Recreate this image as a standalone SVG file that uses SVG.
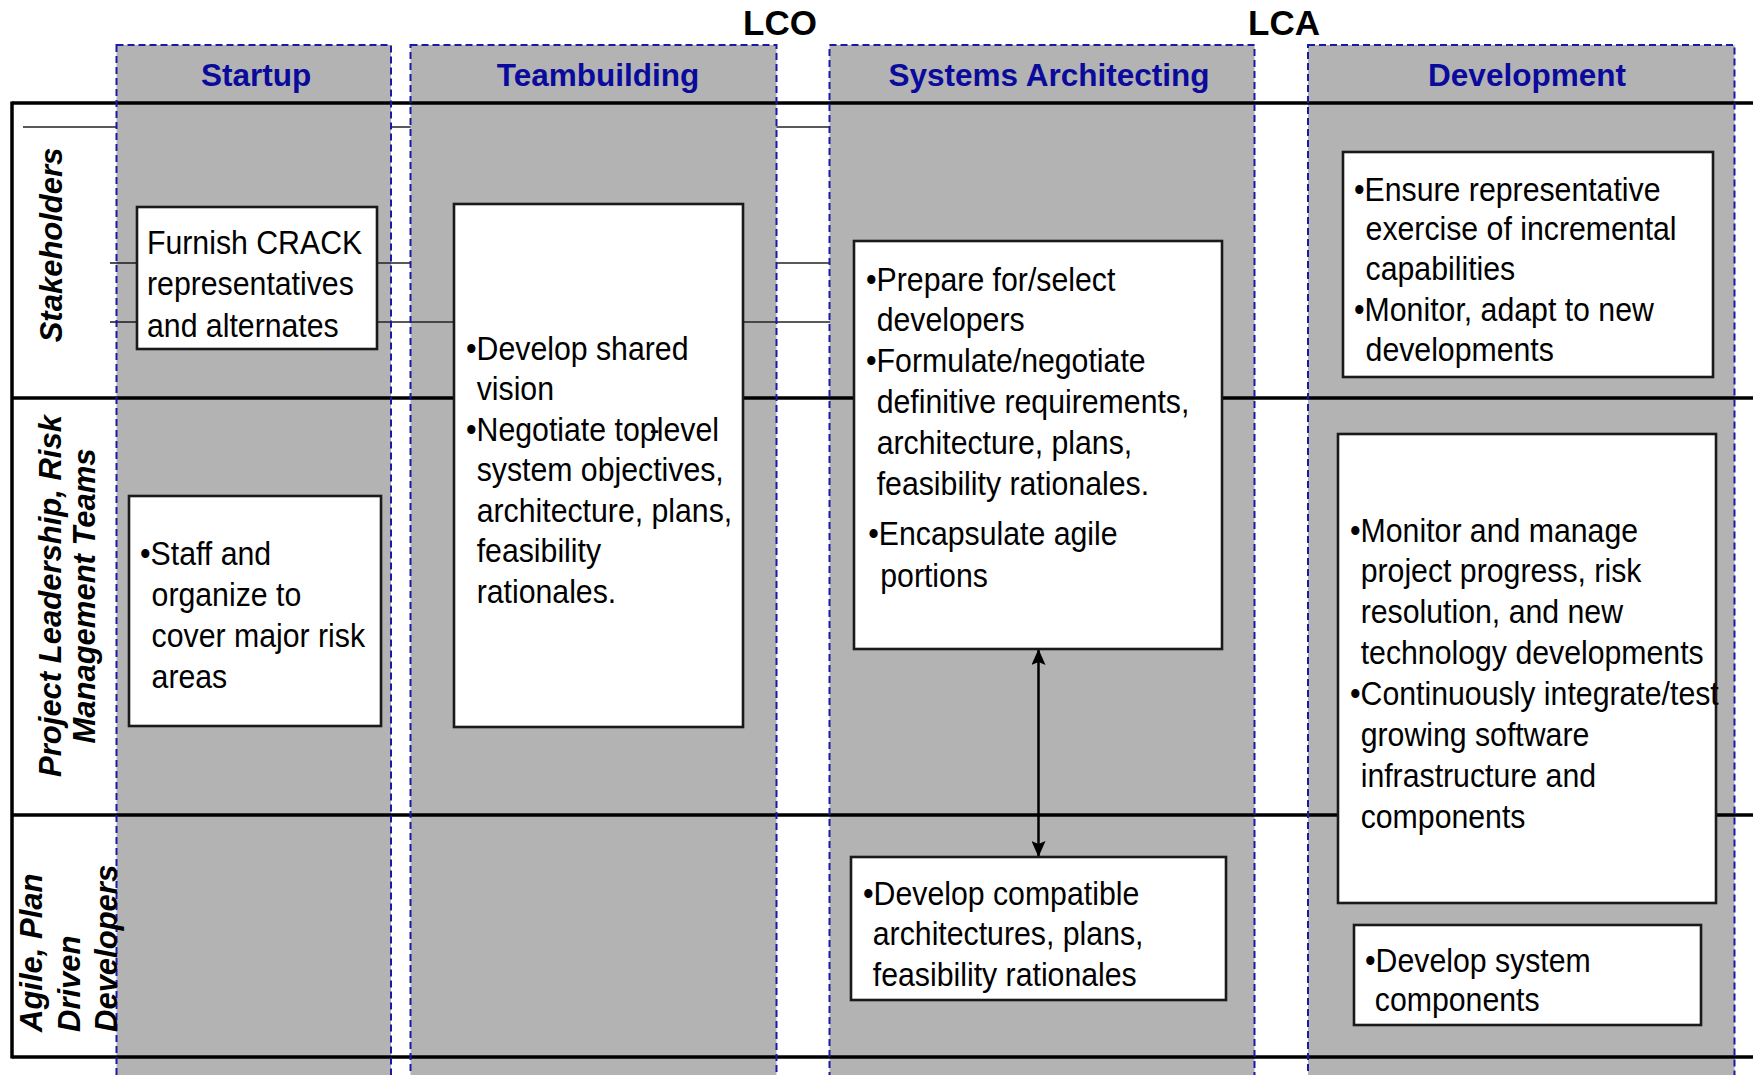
<svg xmlns="http://www.w3.org/2000/svg" width="1753" height="1075" viewBox="0 0 1753 1075">
  <style>
    .col { fill: #b3b3b3; }
    .colEdge { fill: none; stroke: #1a1aa6; stroke-width: 2; stroke-dasharray: 7 4; }
    .rule { stroke: #000; stroke-width: 3.5; fill: none; }
    .thin { stroke: #222; stroke-width: 1.6; fill: none; }
    .box { fill: #fff; stroke: #1a1a1a; stroke-width: 2.6; }
    .phase { font-family: "Liberation Sans", Arial, sans-serif; font-weight: bold; font-size: 31.5px; fill: #0a0a9c; text-anchor: middle; }
    .mile { font-family: "Liberation Sans", Arial, sans-serif; font-weight: bold; font-size: 35px; fill: #000; text-anchor: middle; }
    .lane { font-family: "Liberation Sans", Arial, sans-serif; font-weight: bold; font-style: italic; font-size: 31px; fill: #000; }
    .t { font-family: "Liberation Sans", Arial, sans-serif; font-size: 34px; fill: #000; }
    .arrow { stroke: #000; stroke-width: 2.5; fill: none; }
  </style>
  <defs>
    <marker id="head" viewBox="0 0 16 14" refX="15" refY="7" markerWidth="16" markerHeight="14" markerUnits="userSpaceOnUse" orient="auto-start-reverse">
      <path d="M0,0 L16,7 L0,14 L3,7 Z" fill="#000"/>
    </marker>
  </defs>

  <rect width="1753" height="1075" fill="#fff"/>

  <!-- guide line that runs beneath the phase columns -->
  <line class="thin" x1="23" y1="127" x2="830" y2="127"/>

  <!-- phase columns -->
  <g id="col-startup"><rect class="col" x="116.5" y="45" width="274.5" height="1060"/></g>
  <g id="col-teambuilding"><rect class="col" x="410.5" y="45" width="366" height="1060"/></g>
  <g id="col-architecting"><rect class="col" x="829.5" y="45" width="425" height="1060"/></g>
  <g id="col-development"><rect class="col" x="1308" y="45" width="426.5" height="1060"/></g>

  <!-- swimlane rules -->
  <g id="lanes">
    <line class="rule" x1="12" y1="103" x2="1753" y2="103"/>
    <line class="rule" x1="12" y1="398" x2="1753" y2="398"/>
    <line class="rule" x1="12" y1="815" x2="1753" y2="815"/>
    <line class="rule" x1="12" y1="1057" x2="1753" y2="1057"/>
    <line class="rule" x1="12" y1="101.5" x2="12" y2="1058.5"/>
  </g>

  <g id="connectors">
    <line class="thin" x1="110" y1="263" x2="137" y2="263"/>
    <line class="thin" x1="377" y1="263" x2="411" y2="263"/>
    <line class="thin" x1="776" y1="263" x2="830" y2="263"/>
    <line class="thin" x1="110" y1="322" x2="137" y2="322"/>
    <line class="thin" x1="377" y1="322" x2="454" y2="322"/>
    <line class="thin" x1="743" y1="322" x2="830" y2="322"/>
    <line class="arrow" x1="1038.5" y1="650" x2="1038.5" y2="856" marker-start="url(#head)" marker-end="url(#head)"/>
  </g>

  <!-- dashed phase outlines -->
  <rect class="colEdge" x="116.5" y="45" width="274.5" height="1060"/>
  <rect class="colEdge" x="410.5" y="45" width="366" height="1060"/>
  <rect class="colEdge" x="829.5" y="45" width="425" height="1060"/>
  <rect class="colEdge" x="1308" y="45" width="426.5" height="1060"/>

  <!-- phase titles and milestones -->
  <text class="phase" x="256" y="86">Startup</text>
  <text class="phase" x="598" y="86">Teambuilding</text>
  <text class="phase" x="1049" y="86">Systems Architecting</text>
  <text class="phase" x="1527" y="86">Development</text>
  <text class="mile" x="780" y="35">LCO</text>
  <text class="mile" x="1284" y="35">LCA</text>

  <!-- lane labels -->
  <g id="lane-labels">
    <text class="lane" text-anchor="middle" transform="translate(62,245) rotate(-90)">Stakeholders</text>
    <text class="lane" text-anchor="middle" transform="translate(61,596) rotate(-90)">Project Leadership, Risk</text>
    <text class="lane" text-anchor="middle" transform="translate(95,596) rotate(-90)">Management Teams</text>
    <text class="lane" transform="translate(42,1032) rotate(-90)">Agile, Plan</text>
    <text class="lane" transform="translate(80,1032) rotate(-90)">Driven</text>
    <text class="lane" transform="translate(117,1032) rotate(-90)">Developers</text>
  </g>

  <!-- activity boxes (narrow body text: regular face squeezed horizontally) -->
  <g id="furnish-crack">
    <rect class="box" x="137" y="207" width="240" height="142"/>
    <text class="t" transform="translate(147,0) scale(0.89,1)">
      <tspan x="0" y="254">Furnish CRACK</tspan>
      <tspan x="0" y="295">representatives</tspan>
      <tspan x="0" y="337">and alternates</tspan>
    </text>
  </g>

  <g id="shared-vision">
    <rect class="box" x="454" y="204" width="289" height="523"/>
    <text class="t" transform="translate(466,0) scale(0.89,1)">
      <tspan x="0" y="360">•Develop shared</tspan>
      <tspan x="12" y="400.5">vision</tspan>
      <tspan x="0" y="441">•Negotiate top<tspan dx="-8">-</tspan><tspan dx="-3">level</tspan></tspan>
      <tspan x="12" y="481.5">system objectives,</tspan>
      <tspan x="12" y="522">architecture, plans,</tspan>
      <tspan x="12" y="562.5">feasibility</tspan>
      <tspan x="12" y="603">rationales.</tspan>
    </text>
  </g>

  <g id="staff-organize">
    <rect class="box" x="129" y="496" width="252" height="230"/>
    <text class="t" transform="translate(140,0) scale(0.89,1)">
      <tspan x="0" y="565">•Staff and</tspan>
      <tspan x="13" y="606">organize to</tspan>
      <tspan x="13" y="647">cover major risk</tspan>
      <tspan x="13" y="688">areas</tspan>
    </text>
  </g>

  <g id="select-developers">
    <rect class="box" x="854" y="241" width="368" height="408"/>
    <text class="t" transform="translate(866,0) scale(0.89,1)">
      <tspan x="0" y="291">•Prepare for/select</tspan>
      <tspan x="12" y="331">developers</tspan>
      <tspan x="0" y="372">•Formulate/negotiate</tspan>
      <tspan x="12" y="413">definitive requirements,</tspan>
      <tspan x="12" y="454">architecture, plans,</tspan>
      <tspan x="12" y="495">feasibility rationales.</tspan>
      <tspan x="2.5" y="545">•Encapsulate agile</tspan>
      <tspan x="16" y="587">portions</tspan>
    </text>
  </g>

  <g id="compatible-architectures">
    <rect class="box" x="851" y="857" width="375" height="143"/>
    <text class="t" transform="translate(863,0) scale(0.89,1)">
      <tspan x="0" y="905">•Develop compatible</tspan>
      <tspan x="11" y="945">architectures, plans,</tspan>
      <tspan x="11" y="986">feasibility rationales</tspan>
    </text>
  </g>

  <g id="incremental-capabilities">
    <rect class="box" x="1343" y="152" width="370" height="225"/>
    <text class="t" transform="translate(1354,0) scale(0.89,1)">
      <tspan x="0" y="201">•Ensure representative</tspan>
      <tspan x="13" y="240.5">exercise of incremental</tspan>
      <tspan x="13" y="280">capabilities</tspan>
      <tspan x="0" y="321.5">•Monitor, adapt to new</tspan>
      <tspan x="13" y="361">developments</tspan>
    </text>
  </g>

  <g id="monitor-manage">
    <rect class="box" x="1338" y="434" width="378" height="469"/>
    <text class="t" transform="translate(1350,0) scale(0.89,1)">
      <tspan x="0" y="542">•Monitor and manage</tspan>
      <tspan x="12" y="582">project progress, risk</tspan>
      <tspan x="12" y="623">resolution, and new</tspan>
      <tspan x="12" y="664">technology developments</tspan>
      <tspan x="0" y="705">•Continuously integrate/test</tspan>
      <tspan x="12" y="746">growing software</tspan>
      <tspan x="12" y="787">infrastructure and</tspan>
      <tspan x="12" y="828">components</tspan>
    </text>
  </g>

  <g id="system-components">
    <rect class="box" x="1354" y="925" width="347" height="100"/>
    <text class="t" transform="translate(1365,0) scale(0.89,1)">
      <tspan x="0" y="972.5">•Develop system</tspan>
      <tspan x="11" y="1011.5">components</tspan>
    </text>
  </g>
</svg>
